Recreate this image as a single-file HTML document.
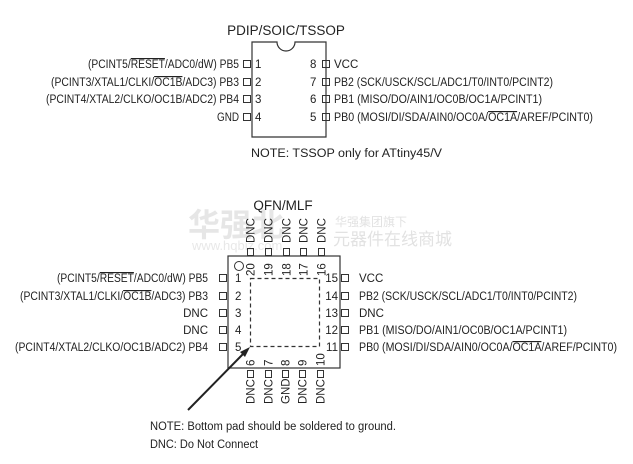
<!DOCTYPE html>
<html><head><meta charset="utf-8"><style>
html,body{margin:0;padding:0;background:#fff;}
svg{display:block;}
text{font-family:"Liberation Sans","Noto Sans CJK SC",sans-serif;fill:#222;}
</style></head><body>
<svg width="633" height="464" viewBox="0 0 633 464" xmlns="http://www.w3.org/2000/svg">
<g>
<text x="188" y="236" font-size="32" font-weight="bold" style="fill:#e6e6e6" font-family="Noto Sans CJK SC, sans-serif">华强北</text>
<text x="192" y="250" font-size="13" style="fill:#e8e8e8" font-family="Liberation Serif, serif">www.hqbiz.com</text>
<text x="335" y="226" font-size="12" style="fill:#e2e2e2" font-family="Noto Sans CJK SC, sans-serif">华强集团旗下</text>
<text x="333" y="245" font-size="17" style="fill:#e2e2e2" font-family="Noto Sans CJK SC, sans-serif">元器件在线商城</text>
</g>

<text x="286" y="35" font-size="13.5" text-anchor="middle">PDIP/SOIC/TSSOP</text>
<path d="M252,42 H277 A9,9 0 0 0 295,42 H326 V137 H252 Z" fill="none" stroke="#333" stroke-width="1.2"/>
<g fill="none" stroke="#333" stroke-width="1">
<rect x="243.5" y="60.5" width="7" height="7"/><rect x="243.5" y="78.5" width="7" height="7"/>
<rect x="243.5" y="95.5" width="7" height="7"/><rect x="243.5" y="113.5" width="7" height="7"/>
<rect x="322.5" y="60.5" width="7" height="7"/><rect x="322.5" y="78.5" width="7" height="7"/>
<rect x="322.5" y="95.5" width="7" height="7"/><rect x="322.5" y="113.5" width="7" height="7"/>
</g>
<g font-size="11.5">
<text x="255" y="68">1</text><text x="255" y="86">2</text><text x="255" y="103">3</text><text x="255" y="121">4</text>
<text x="310" y="68">8</text><text x="310" y="86">7</text><text x="310" y="103">6</text><text x="310" y="121">5</text>
<text x="88" y="68" textLength="151" lengthAdjust="spacingAndGlyphs">(PCINT5/<tspan text-decoration="overline">RESET</tspan>/ADC0/dW) PB5</text>
<text x="51" y="86" textLength="188" lengthAdjust="spacingAndGlyphs">(PCINT3/XTAL1/CLKI/<tspan text-decoration="overline">OC1B</tspan>/ADC3) PB3</text>
<text x="46" y="103" textLength="193" lengthAdjust="spacingAndGlyphs">(PCINT4/XTAL2/CLKO/OC1B/ADC2) PB4</text>
<text x="217" y="121" textLength="22" lengthAdjust="spacingAndGlyphs">GND</text>
<text x="334" y="68">VCC</text>
<text x="334" y="86" textLength="219" lengthAdjust="spacingAndGlyphs">PB2 (SCK/USCK/SCL/ADC1/T0/INT0/PCINT2)</text>
<text x="334" y="103" textLength="208" lengthAdjust="spacingAndGlyphs">PB1 (MISO/DO/AIN1/OC0B/OC1A/PCINT1)</text>
<text x="334" y="121" textLength="259" lengthAdjust="spacingAndGlyphs">PB0 (MOSI/DI/SDA/AIN0/OC0A/<tspan text-decoration="overline">OC1A</tspan>/AREF/PCINT0)</text>
<text x="251" y="157" textLength="191" lengthAdjust="spacingAndGlyphs">NOTE: TSSOP only for ATtiny45/V</text>
</g>

<text x="283" y="210" font-size="13.5" text-anchor="middle">QFN/MLF</text>
<rect x="228" y="256" width="112" height="112" fill="none" stroke="#333" stroke-width="1.2"/>
<rect x="250.5" y="278.5" width="69" height="68" fill="none" stroke="#333" stroke-width="1.2" stroke-dasharray="4,3"/>
<circle cx="239" cy="266" r="4.5" fill="none" stroke="#333" stroke-width="1"/>
<g fill="none" stroke="#333" stroke-width="1">
<rect x="247.5" y="248.5" width="6" height="7"/><rect x="265.5" y="248.5" width="6" height="7"/>
<rect x="283.5" y="248.5" width="6" height="7"/><rect x="300.5" y="248.5" width="6" height="7"/>
<rect x="318.5" y="248.5" width="6" height="7"/>
<rect x="247.5" y="370.5" width="6" height="7"/><rect x="265.5" y="370.5" width="6" height="7"/>
<rect x="282.5" y="370.5" width="6" height="7"/><rect x="299.5" y="370.5" width="6" height="7"/>
<rect x="317.5" y="370.5" width="6" height="7"/>
<rect x="219.5" y="274.5" width="7" height="7"/><rect x="219.5" y="292.5" width="7" height="7"/>
<rect x="219.5" y="309.5" width="7" height="7"/><rect x="219.5" y="326.5" width="7" height="7"/>
<rect x="219.5" y="343.5" width="7" height="7"/>
<rect x="341.5" y="274.5" width="7" height="7"/><rect x="341.5" y="292.5" width="7" height="7"/>
<rect x="341.5" y="309.5" width="7" height="7"/><rect x="341.5" y="326.5" width="7" height="7"/>
<rect x="341.5" y="343.5" width="7" height="7"/>
</g>
<g font-size="11.5">
<text transform="translate(254.5,243) rotate(-90)">DNC</text>
<text transform="translate(272.5,243) rotate(-90)">DNC</text>
<text transform="translate(290.5,243) rotate(-90)">DNC</text>
<text transform="translate(307.5,243) rotate(-90)">DNC</text>
<text transform="translate(325.5,243) rotate(-90)">DNC</text>
<text transform="translate(254.5,276) rotate(-90)">20</text>
<text transform="translate(272.5,276) rotate(-90)">19</text>
<text transform="translate(290.5,276) rotate(-90)">18</text>
<text transform="translate(307.5,276) rotate(-90)">17</text>
<text transform="translate(325.5,276) rotate(-90)">16</text>
<text transform="translate(254.5,366) rotate(-90)">6</text>
<text transform="translate(272.5,366) rotate(-90)">7</text>
<text transform="translate(289.5,366) rotate(-90)">8</text>
<text transform="translate(306.5,366) rotate(-90)">9</text>
<text transform="translate(324.5,366) rotate(-90)">10</text>
<text transform="translate(254.5,404) rotate(-90)">DNC</text>
<text transform="translate(272.5,404) rotate(-90)">DNC</text>
<text transform="translate(289.5,404) rotate(-90)">GND</text>
<text transform="translate(306.5,404) rotate(-90)">DNC</text>
<text transform="translate(324.5,404) rotate(-90)">DNC</text>
<text x="235" y="282">1</text><text x="235" y="300">2</text><text x="235" y="317">3</text><text x="235" y="334">4</text><text x="235" y="351">5</text>
<text x="338" y="282" text-anchor="end">15</text><text x="338" y="300" text-anchor="end">14</text>
<text x="338" y="317" text-anchor="end">13</text><text x="338" y="334" text-anchor="end">12</text><text x="338" y="351" text-anchor="end">11</text>
<text x="57" y="282" textLength="151" lengthAdjust="spacingAndGlyphs">(PCINT5/<tspan text-decoration="overline">RESET</tspan>/ADC0/dW) PB5</text>
<text x="20" y="300" textLength="188" lengthAdjust="spacingAndGlyphs">(PCINT3/XTAL1/CLKI/<tspan text-decoration="overline">OC1B</tspan>/ADC3) PB3</text>
<text x="208" y="317" text-anchor="end">DNC</text>
<text x="208" y="334" text-anchor="end">DNC</text>
<text x="15" y="351" textLength="193" lengthAdjust="spacingAndGlyphs">(PCINT4/XTAL2/CLKO/OC1B/ADC2) PB4</text>
<text x="359" y="282">VCC</text>
<text x="359" y="300" textLength="218" lengthAdjust="spacingAndGlyphs">PB2 (SCK/USCK/SCL/ADC1/T0/INT0/PCINT2)</text>
<text x="359" y="317">DNC</text>
<text x="359" y="334" textLength="208" lengthAdjust="spacingAndGlyphs">PB1 (MISO/DO/AIN1/OC0B/OC1A/PCINT1)</text>
<text x="359" y="351" textLength="258" lengthAdjust="spacingAndGlyphs">PB0 (MOSI/DI/SDA/AIN0/OC0A/<tspan text-decoration="overline">OC1A</tspan>/AREF/PCINT0)</text>
<text x="150" y="430" textLength="246" lengthAdjust="spacingAndGlyphs">NOTE: Bottom pad should be soldered to ground.</text>
<text x="150" y="448" textLength="108" lengthAdjust="spacingAndGlyphs">DNC: Do Not Connect</text>
</g>
<line x1="188" y1="410" x2="245" y2="352" stroke="#222" stroke-width="2"/>
<polygon points="250,347 240,352 245,357" fill="#222"/>
</svg>
</body></html>
